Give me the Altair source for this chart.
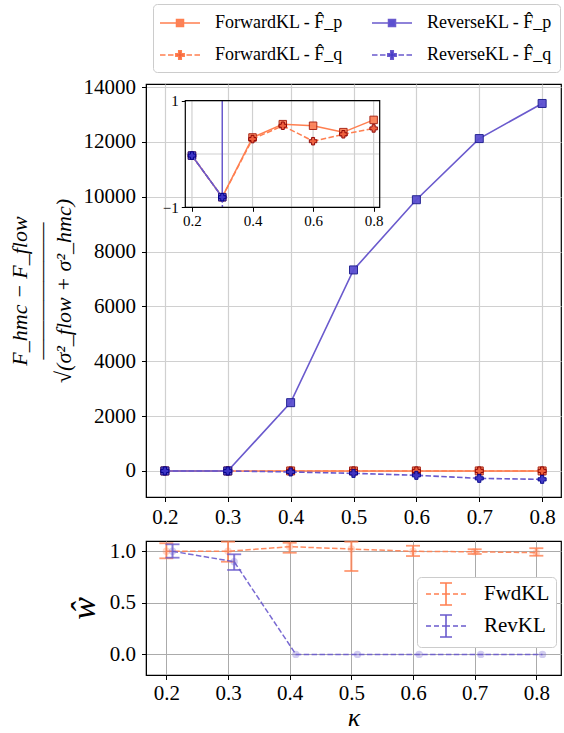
import altair as alt
import pandas as pd

# ---------------- data ----------------
kappa = [0.2, 0.3, 0.4, 0.5, 0.6, 0.7, 0.8]
fwd_fp = [-0.03, -0.81, 0.31, 0.56, 0.53, 0.41, 0.64]
fwd_fq = [-0.03, -0.81, 0.28, 0.53, 0.24, 0.37, 0.48]
rev_fp = [-0.03, -0.81, 2490, 7330, 9890, 12120, 13400]
rev_fq = [-0.03, -0.81, -37, -88, -160, -270, -306]

series_names = ["ForwardKL - F\u0302_p", "ForwardKL - F\u0302_q",
                "ReverseKL - F\u0302_p", "ReverseKL - F\u0302_q"]
series_values = [fwd_fp, fwd_fq, rev_fp, rev_fq]

w_methods = ["FwdKL", "RevKL"]
w_fwd = [1.0, 1.0, 1.045, 1.022, 1.0, 0.995, 0.987]
w_fwd_lo = [0.932, 0.899, 0.986, 0.809, 0.954, 0.974, 0.957]
w_fwd_hi = [1.078, 1.093, 1.083, 1.093, 1.054, 1.02, 1.03]
w_rev = [1.0, 0.899, 0.0, 0.0, 0.0, 0.0, 0.0]
w_rev_lo = [0.938, 0.819, None, None, None, None, None]
w_rev_hi = [1.068, 0.971, None, None, None, None, None]
w_shift = {"FwdKL": 0.0, "RevKL": 0.01}

main_y_ticks = [0, 2000, 4000, 6000, 8000, 10000, 12000, 14000]
x_ticks = [0.2, 0.3, 0.4, 0.5, 0.6, 0.7, 0.8]
inset_x_ticks = [0.2, 0.4, 0.6, 0.8]
inset_y_ticks = [-1, 0, 1]
w_ticks = [0.0, 0.5, 1.0]

# ---------------- styles ----------------
FONT = "Liberation Serif"
CORAL = "#ff7f50"
SLATE = "#6a5acd"
FP, FQ, RP, RQ = series_names
line_col = {FP: CORAL, FQ: CORAL, RP: SLATE, RQ: SLATE}
mk_fill = {FP: "#fb8259", FQ: "#ef5f3c", RP: "#5b4fd0", RQ: "#3b32c6"}
mk_edge = {FP: "#a8200f", FQ: "#8b0000", RP: "#1c1c8f", RQ: "#00008b"}
mk_shape = {FP: "square", FQ: "cross", RP: "square", RQ: "cross"}
dashed = {FP: False, FQ: True, RP: False, RQ: True}
DASH = [5.5, 2.4]

PATH_FP = "M-2,0H-0.35M0.35,0H2M-0.35,-0.35H0.35V0.35H-0.35Z"
PATH_FQ = ("M-2,0H-1.45M-1.2,0H-0.65M0.65,0H1.2M1.45,0H2"
           "M-0.13,-0.42H0.13V-0.13H0.42V0.13H0.13V0.42H-0.13V0.13H-0.42V-0.13H-0.13Z")
PATH_EB = ("M-2,0H-1.5M-1.2,0H-0.7M-0.4,0H0.4M0.7,0H1.2M1.5,0H2"
           "M0,-1.1V1.1M-0.6,-1.1H0.6M-0.6,1.1H0.6")
leg_paths = {FP: PATH_FP, FQ: PATH_FQ, RP: PATH_FP, RQ: PATH_FQ}

# ---------------- tables ----------------
rows = []
for name, vals in zip(series_names, series_values):
    for k, v in zip(kappa, vals):
        rows.append({"kappa": k, "value": v, "series": name})
main_df = pd.DataFrame(rows)

brows = []
for m, c, lo, hi in [("FwdKL", w_fwd, w_fwd_lo, w_fwd_hi), ("RevKL", w_rev, w_rev_lo, w_rev_hi)]:
    for k, v, l, h in zip(kappa, c, lo, hi):
        brows.append({"kappa": k, "method": m, "w": v, "lo": l, "hi": h, "shift": w_shift[m]})
bot_df = pd.DataFrame(brows)

# ---------------- main panel ----------------
MAIN_W, MAIN_H = 415, 413
X_DOM = [0.17, 0.83]
Y_DOM = [-950, 14110]
AX = dict(labelFont=FONT, titleFont=FONT, labelColor="black", titleColor="black",
          domainColor="black", tickColor="black", titleFontWeight="normal",
          labelFlush=False, labelOverlap=False)

x_main = alt.X("kappa:Q", scale=alt.Scale(domain=X_DOM, nice=False, zero=False),
               axis=alt.Axis(values=x_ticks, format=".1f", title=None, grid=True,
                             gridColor="#d0d0d0", gridWidth=1.2, tickSize=4.5,
                             labelFontSize=21, labelPadding=5, **AX))
y_main = alt.Y("value:Q", scale=alt.Scale(domain=Y_DOM, nice=False, zero=False),
               axis=alt.Axis(values=main_y_ticks, format="d", grid=True,
                             gridColor="#d0d0d0", gridWidth=1.2, tickSize=4.5,
                             labelFontSize=21, labelPadding=6,
                             title=["F_hmc \u2212 F_flow", "\u2014\u2014\u2014\u2014\u2014\u2014\u2014",
                                    "\u221a(\u03c3\u00b2_flow + \u03c3\u00b2_hmc)"],
                             titleFontSize=22, titleFontStyle="italic",
                             titleLineHeight=22, titlePadding=8, **AX))

main_layers = []
for name in series_names:
    base = alt.Chart(main_df).transform_filter(alt.datum.series == name)
    lkw = dict(color=line_col[name], strokeWidth=1.6)
    if dashed[name]:
        lkw["strokeDash"] = DASH
    main_layers.append(base.mark_line(**lkw).encode(x=x_main, y=y_main))
    main_layers.append(base.mark_point(shape=mk_shape[name], filled=True, fill=mk_fill[name],
                                       stroke=mk_edge[name], strokeWidth=1, size=64,
                                       opacity=0.95).encode(x=x_main, y=y_main))

LEG_TOP = alt.Legend(title=None, orient="none", legendX=7, legendY=-80, columns=2,
                     columnPadding=26, rowPadding=12, symbolSize=400, symbolStrokeWidth=1.5,
                     symbolOffset=8, labelOffset=24, labelFont=FONT, labelFontSize=18,
                     labelColor="black", labelLimit=400, padding=8, strokeColor="#cccccc",
                     fillColor="white", cornerRadius=4)
legend_top = alt.Chart(main_df).transform_filter("false").mark_point(
    filled=True, opacity=1, strokeWidth=1.5).encode(
    shape=alt.Shape("series:N", scale=alt.Scale(domain=series_names,
                    range=[leg_paths[n] for n in series_names]), legend=LEG_TOP),
    fill=alt.Fill("series:N", scale=alt.Scale(domain=series_names,
                  range=[mk_fill[n] for n in series_names]), legend=LEG_TOP),
    stroke=alt.Stroke("series:N", scale=alt.Scale(domain=series_names,
                      range=[line_col[n] for n in series_names]), legend=LEG_TOP),
)
main_layers.append(legend_top)
main_part = alt.layer(*main_layers)

# ---------------- inset ----------------
IX_DOM = [0.178, 0.82]
IY_DOM = [-1, 1]
IX_RANGE = [39.3, 233.7]
IY_RANGE = [123.3, 16.7]
ix_scale = alt.Scale(domain=IX_DOM, range=IX_RANGE, nice=False, zero=False)
iy_scale = alt.Scale(domain=IY_DOM, range=IY_RANGE, nice=False, zero=False)
ix_axis = alt.Axis(orient="bottom", offset=-(MAIN_H - IY_RANGE[0]), values=inset_x_ticks,
                   format=".1f", title=None, grid=False, domain=False, tickSize=4,
                   labelFontSize=15, labelPadding=2, **AX)
iy_axis = alt.Axis(orient="left", offset=-IX_RANGE[0], values=inset_y_ticks, format="d",
                   labelExpr="replace(datum.label, '-', '\u2212')", title=None, grid=False,
                   domain=False, tickSize=4, labelFontSize=15, labelPadding=3, **AX)

frame_df = pd.DataFrame({"x1": [IX_DOM[0]], "x2": [IX_DOM[1]], "y1": [IY_DOM[0]], "y2": [IY_DOM[1]]})
gx_df = pd.DataFrame({"gx": inset_x_ticks})
gy_df = pd.DataFrame({"gy": inset_y_ticks})

inset_layers = [
    alt.Chart(gx_df).mark_rule(color="#d0d0d0", strokeWidth=1.2).encode(
        x=alt.X("gx:Q", scale=ix_scale, axis=ix_axis),
        y=alt.datum(IY_DOM[0], scale=iy_scale, axis=iy_axis), y2=alt.datum(IY_DOM[1])),
    alt.Chart(gy_df).mark_rule(color="#d0d0d0", strokeWidth=1.2).encode(
        y=alt.Y("gy:Q", scale=iy_scale, axis=iy_axis),
        x=alt.datum(IX_DOM[0], scale=ix_scale, axis=ix_axis), x2=alt.datum(IX_DOM[1])),
]
for name in series_names:
    base = alt.Chart(main_df).transform_filter(alt.datum.series == name)
    seg = (base.transform_window(k2="lead(kappa)", v2="lead(value)", sort=[alt.SortField("kappa")])
           .transform_filter("datum.k2 != null")
           .transform_filter("!(datum.value > 1 && datum.v2 > 1) && !(datum.value < -1 && datum.v2 < -1)")
           .transform_calculate(
               t0="datum.value > 1 ? (1 - datum.value) / (datum.v2 - datum.value) : "
                  "(datum.value < -1 ? (-1 - datum.value) / (datum.v2 - datum.value) : 0)",
               t1="datum.v2 > 1 ? (1 - datum.value) / (datum.v2 - datum.value) : "
                  "(datum.v2 < -1 ? (-1 - datum.value) / (datum.v2 - datum.value) : 1)")
           .transform_calculate(
               xa="datum.kappa + datum.t0 * (datum.k2 - datum.kappa)",
               ya="datum.value + datum.t0 * (datum.v2 - datum.value)",
               xb="datum.kappa + datum.t1 * (datum.k2 - datum.kappa)",
               yb="datum.value + datum.t1 * (datum.v2 - datum.value)"))
    rkw = dict(color=line_col[name], strokeWidth=1.5)
    if dashed[name]:
        rkw["strokeDash"] = DASH
    inset_layers.append(seg.mark_rule(**rkw).encode(
        x=alt.X("xa:Q", scale=ix_scale, axis=ix_axis), x2="xb:Q",
        y=alt.Y("ya:Q", scale=iy_scale, axis=iy_axis), y2="yb:Q"))
    inset_layers.append(
        base.transform_filter("abs(datum.value) <= 1").mark_point(
            shape=mk_shape[name], filled=True, fill=mk_fill[name], stroke=mk_edge[name],
            strokeWidth=1, size=56, opacity=0.95).encode(
            x=alt.X("kappa:Q", scale=ix_scale, axis=ix_axis),
            y=alt.Y("value:Q", scale=iy_scale, axis=iy_axis)))
inset_layers.append(
    alt.Chart(frame_df).mark_rect(fillOpacity=0, stroke="black", strokeWidth=1.2).encode(
        x=alt.X("x1:Q", scale=ix_scale, axis=ix_axis), x2="x2:Q",
        y=alt.Y("y1:Q", scale=iy_scale, axis=iy_axis), y2="y2:Q"))
inset_part = alt.layer(*inset_layers)

main = alt.layer(main_part, inset_part).resolve_scale(
    x="independent", y="independent").resolve_axis(x="independent", y="independent").properties(
    width=MAIN_W, height=MAIN_H)

# ---------------- bottom panel ----------------
BX_DOM = [0.167, 0.84]
BY_DOM = [-0.2, 1.1]
bx = alt.X("x:Q", scale=alt.Scale(domain=BX_DOM, nice=False, zero=False),
           axis=alt.Axis(values=x_ticks, format=".1f", title="\u03ba", grid=True,
                         gridColor="#ababab", gridWidth=1, tickSize=4.5, labelFontSize=21,
                         labelPadding=3, titleFontSize=26, titleFontStyle="italic",
                         titlePadding=1, **AX))
b_axis_y = alt.Axis(values=w_ticks, format=".1f", title="\u0175", grid=True, gridColor="#ababab",
                    gridWidth=1, tickSize=4.5, labelFontSize=21, labelPadding=6,
                    titleFontSize=34, titleFontStyle="italic", titlePadding=8, **AX)
by_scale = alt.Scale(domain=BY_DOM, nice=False, zero=False)

bot_layers = []
bcol = {"FwdKL": CORAL, "RevKL": SLATE}
for m in w_methods:
    base = (alt.Chart(bot_df).transform_filter(alt.datum.method == m)
            .transform_calculate(x="datum.kappa + datum.shift"))
    bot_layers.append(base.mark_line(color=bcol[m], strokeWidth=1.5, strokeDash=DASH,
                                     opacity=0.9).encode(
        x=bx, y=alt.Y("w:Q", scale=by_scale, axis=b_axis_y)))
    eb = base.transform_filter("isValid(datum.lo)")
    bot_layers.append(eb.mark_rule(color=bcol[m], strokeWidth=2, opacity=0.8).encode(
        x=bx, y=alt.Y("lo:Q", scale=by_scale, axis=b_axis_y), y2="hi:Q"))
    for f in ["lo", "hi"]:
        bot_layers.append(eb.mark_tick(orient="horizontal", color=bcol[m], size=14,
                                       thickness=1.8, opacity=0.8).encode(
            x=bx, y=alt.Y(f + ":Q", scale=by_scale, axis=b_axis_y)))
    bot_layers.append(base.mark_circle(color=bcol[m], size=55, opacity=0.3).encode(
        x=bx, y=alt.Y("w:Q", scale=by_scale, axis=b_axis_y)))

LEG_BOT = alt.Legend(title=None, orient="none", legendX=271, legendY=36, symbolSize=400,
                     symbolStrokeWidth=1.6, symbolOffset=12, labelOffset=27, labelFont=FONT,
                     labelFontSize=21, labelColor="black", rowPadding=2, padding=6,
                     strokeColor="#cccccc", fillColor="white", cornerRadius=4)
bot_layers.append(
    alt.Chart(bot_df).transform_filter("false").mark_point(filled=False, opacity=1).encode(
        shape=alt.Shape("method:N", scale=alt.Scale(domain=w_methods, range=[PATH_EB, PATH_EB]),
                        legend=LEG_BOT),
        color=alt.Color("method:N", scale=alt.Scale(domain=w_methods,
                        range=[bcol[m] for m in w_methods]), legend=LEG_BOT)))

bottom = alt.layer(*bot_layers).properties(width=MAIN_W, height=134)

chart = (alt.vconcat(main, bottom, spacing=44, bounds="flush")
         .resolve_scale(shape="independent", fill="independent", stroke="independent",
                        color="independent")
         .properties(padding={"left": 7, "top": 2, "right": 0, "bottom": 2})
         .configure_view(stroke="black", strokeWidth=1.2)
         .configure_axis(labelFont=FONT, titleFont=FONT, labelColor="black", titleColor="black",
                         domainColor="black", tickColor="black", titleFontWeight="normal",
                         labelFlush=False, labelOverlap=False, labelBound=False)
         .configure_legend(labelFont=FONT)
         .configure_text(font=FONT))

chart.save("out.html", embed_options={"renderer": "svg", "actions": False})
